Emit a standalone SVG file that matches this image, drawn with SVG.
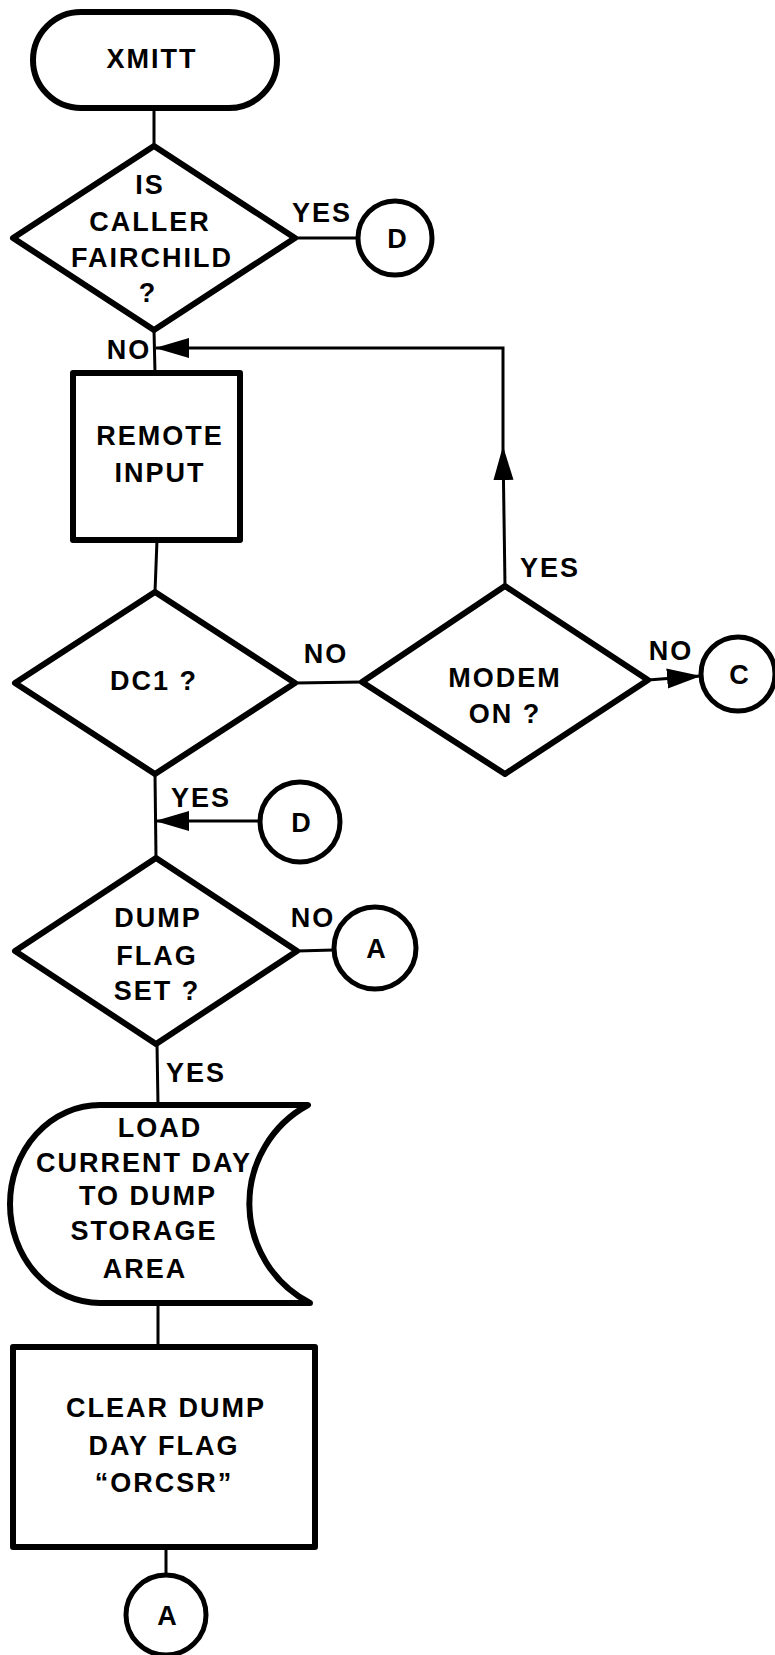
<svg xmlns="http://www.w3.org/2000/svg" width="775" height="1655" viewBox="0 0 775 1655">
<style>
.shape{fill:#fff;stroke:#000;stroke-width:6;stroke-linejoin:round}
.circ{fill:#fff;stroke:#000;stroke-width:5}
.ln{fill:none;stroke:#000;stroke-width:3}
text{font-family:"Liberation Sans",Arial,sans-serif;font-weight:bold;font-size:27px;fill:#000;text-anchor:middle;letter-spacing:2px}
</style>
<defs>
<marker id="ah" markerUnits="userSpaceOnUse" markerWidth="34" markerHeight="22" refX="33" refY="11" orient="auto">
<path d="M0,1 L34,11 L0,21 Z" fill="#000"/>
</marker>
</defs>
<g id="connectors">
<path class="ln" d="M154,108 L154,146"/>
<path class="ln" d="M295,238 L358,238"/>
<path class="ln" d="M154,330 L155,373"/>
<path class="ln" d="M505,586 L503,447" marker-end="url(#ah)"/>
<path class="ln" d="M503,447 L503,348 L156,348" marker-end="url(#ah)"/>
<path class="ln" d="M157,540 L155,592"/>
<path class="ln" d="M295,683 L362,682"/>
<path class="ln" d="M648,680 L700,676" marker-end="url(#ah)"/>
<path class="ln" d="M155,774 L156,858"/>
<path class="ln" d="M260,821 L156,821" marker-end="url(#ah)"/>
<path class="ln" d="M297,951 L334,950"/>
<path class="ln" d="M157,1044 L158,1105"/>
<path class="ln" d="M158,1303 L158,1347"/>
<path class="ln" d="M166,1547 L166,1575"/>
</g>
<g id="start">
<rect class="shape" x="33" y="12" width="244" height="96" rx="48" ry="48" stroke-width="5"/>
<text x="152" y="68">XMITT</text>
</g>
<g id="dec-fairchild">
<polygon class="shape" points="154,146 295,238 154,330 13,238"/>
<text x="150" y="194">IS</text>
<text x="150" y="231">CALLER</text>
<text x="152" y="267">FAIRCHILD</text>
<text x="148" y="302">?</text>
<text x="322" y="222">YES</text>
<text x="129" y="359">NO</text>
</g>
<g id="conn-d1">
<circle class="circ" cx="395" cy="238" r="37"/>
<text x="398" y="248">D</text>
</g>
<g id="remote-input">
<rect class="shape" x="73" y="373" width="167" height="167"/>
<text x="160" y="445">REMOTE</text>
<text x="160" y="482">INPUT</text>
</g>
<g id="dec-dc1">
<polygon class="shape" points="155,592 295,683 155,774 15,683"/>
<text x="154" y="690">DC1 ?</text>
<text x="326" y="663">NO</text>
<text x="201" y="807">YES</text>
</g>
<g id="dec-modem">
<polygon class="shape" points="505,586 648,680 505,774 362,682"/>
<text x="505" y="687">MODEM</text>
<text x="505" y="723">ON ?</text>
<text x="550" y="577">YES</text>
<text x="671" y="660">NO</text>
</g>
<g id="conn-c">
<circle class="circ" cx="738" cy="674" r="37"/>
<text x="740" y="684">C</text>
</g>
<g id="conn-d2">
<circle class="circ" cx="300" cy="822" r="40"/>
<text x="302" y="832">D</text>
</g>
<g id="dec-dump">
<polygon class="shape" points="156,858 297,951 156,1044 15,951"/>
<text x="158" y="927">DUMP</text>
<text x="157" y="965">FLAG</text>
<text x="157" y="1000">SET ?</text>
<text x="313" y="927">NO</text>
<text x="196" y="1082">YES</text>
</g>
<g id="conn-a1">
<circle class="circ" cx="375" cy="948" r="41"/>
<text x="377" y="958">A</text>
</g>
<g id="load-current-day">
<path class="shape" d="M308,1105 L100,1105 A90,99 0 0 0 100,1303 L310,1303 A112,112 0 0 1 308,1105 Z"/>
<text x="160" y="1137">LOAD</text>
<text x="144" y="1172">CURRENT DAY</text>
<text x="148" y="1205">TO DUMP</text>
<text x="144" y="1240">STORAGE</text>
<text x="145" y="1278">AREA</text>
</g>
<g id="clear-dump">
<rect class="shape" x="13" y="1347" width="302" height="200"/>
<text x="166" y="1417">CLEAR DUMP</text>
<text x="164" y="1455">DAY FLAG</text>
<text x="164" y="1492">“ORCSR”</text>
</g>
<g id="conn-a2">
<circle class="circ" cx="166" cy="1615" r="40"/>
<text x="168" y="1625">A</text>
</g>
</svg>
